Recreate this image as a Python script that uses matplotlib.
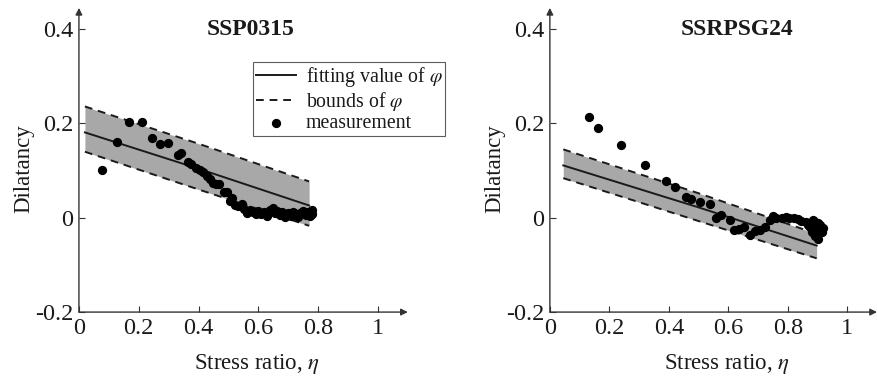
import numpy as np
import matplotlib.pyplot as plt

plt.rcParams['font.family'] = 'Liberation Serif'
plt.rcParams['mathtext.fontset'] = 'stix'

# SSP0315 (left panel)
eta_fit_a = [0.02, 0.40, 0.77]
fit_a = [0.181, 0.104, 0.026]
upper_a = [0.236, 0.157, 0.077]
lower_a = [0.140, 0.060, -0.017]
eta_meas_a = [0.076, 0.126, 0.168, 0.210, 0.243, 0.271, 0.299, 0.330, 0.340, 0.365,
              0.375, 0.390, 0.405, 0.415, 0.427, 0.438, 0.449, 0.460, 0.470, 0.485,
              0.494, 0.505, 0.512, 0.522, 0.533, 0.545, 0.552, 0.561, 0.572, 0.582,
              0.592, 0.600, 0.610, 0.620, 0.630, 0.640, 0.648, 0.656, 0.664, 0.672,
              0.680, 0.690, 0.700, 0.708, 0.716, 0.724, 0.732, 0.740, 0.750, 0.758,
              0.766, 0.772, 0.778, 0.780]
meas_a = [0.102, 0.160, 0.204, 0.203, 0.170, 0.157, 0.158, 0.134, 0.137, 0.118,
          0.114, 0.105, 0.102, 0.097, 0.088, 0.082, 0.074, 0.072, 0.071, 0.055,
          0.054, 0.035, 0.042, 0.028, 0.024, 0.030, 0.018, 0.010, 0.016, 0.012,
          0.008, 0.014, 0.008, 0.012, 0.004, 0.016, 0.020, 0.010, 0.014, 0.006,
          0.012, 0.002, 0.010, 0.004, 0.012, 0.006, 0.002, 0.010, 0.014, 0.006,
          0.012, 0.004, 0.016, 0.008]

# SSRPSG24 (right panel)
eta_fit_b = [0.045, 0.50, 0.897]
fit_b = [0.111, 0.022, -0.059]
upper_b = [0.145, 0.052, -0.034]
lower_b = [0.084, -0.007, -0.086]
eta_meas_b = [0.130, 0.163, 0.240, 0.320, 0.390, 0.420, 0.459, 0.474, 0.504, 0.537,
              0.557, 0.574, 0.607, 0.619, 0.635, 0.652, 0.674, 0.690, 0.707, 0.725,
              0.739, 0.750, 0.762, 0.781, 0.795, 0.803, 0.820, 0.835, 0.843, 0.860,
              0.868, 0.876, 0.885, 0.893, 0.900, 0.910, 0.920, 0.880, 0.890, 0.900,
              0.905, 0.885, 0.895, 0.915]
meas_b = [0.213, 0.191, 0.154, 0.111, 0.079, 0.065, 0.044, 0.040, 0.033, 0.030,
          -0.001, 0.006, -0.004, -0.026, -0.024, -0.020, -0.036, -0.029, -0.026, -0.020,
          -0.005, 0.003, 0.000, -0.001, 0.001, 0.000, -0.001, -0.003, -0.006, -0.010,
          -0.015, -0.020, -0.005, -0.008, -0.012, -0.015, -0.022, -0.030, -0.038, -0.045,
          -0.028, -0.020, -0.035, -0.030]

xticks = [0, 0.2, 0.4, 0.6, 0.8, 1]
xticklabels = ['0', '0.2', '0.4', '0.6', '0.8', '1']
yticks = [-0.2, 0, 0.2, 0.4]
yticklabels = ['-0.2', '0', '0.2', '0.4']

ink = '#1a1a1a'
fig = plt.figure(figsize=(8.77, 3.76), dpi=100)
ax1 = fig.add_axes([0.090, 0.170, 0.375, 0.809])
ax2 = fig.add_axes([0.627, 0.170, 0.373, 0.809])


def draw_panel(ax, eta_fit, fit, upper, lower, eta_meas, meas, title, title_x):
    ax.fill_between(eta_fit, lower, upper, color='#a8a8a8', lw=0)
    ax.plot(eta_fit, fit, color=ink, lw=1.4, label='fitting value of $\\varphi$')
    ax.plot(eta_fit, upper, color=ink, lw=1.4, ls=(0, (4, 3)), label='bounds of $\\varphi$')
    ax.plot(eta_fit, lower, color=ink, lw=1.4, ls=(0, (4, 3)))
    ax.scatter(eta_meas, meas, s=32, color='black', zorder=3, label='measurement')
    ax.set_xlim(0, 1.1)
    ax.set_ylim(-0.2, 0.445)
    for s in ['top', 'right', 'left', 'bottom']:
        ax.spines[s].set_visible(False)
    ax.annotate('', xy=(1, 0), xytext=(0, 0), xycoords='axes fraction',
                arrowprops=dict(arrowstyle='-|>', color='#333333', lw=1.0,
                                mutation_scale=10, shrinkA=0, shrinkB=0))
    ax.annotate('', xy=(0, 1), xytext=(0, 0), xycoords='axes fraction',
                arrowprops=dict(arrowstyle='-|>', color='#333333', lw=1.0,
                                mutation_scale=10, shrinkA=0, shrinkB=0))
    ax.set_xticks(xticks)
    ax.set_xticklabels(xticklabels)
    ax.set_yticks(yticks)
    ax.set_yticklabels(yticklabels)
    ax.tick_params(direction='in', length=4, width=0.8, color='#333333',
                   labelsize=17.5, labelcolor=ink, pad=4)
    ax.set_xlabel('Stress ratio, $\\eta$', fontsize=16.5, color=ink)
    ax.set_ylabel('Dilatancy', fontsize=16.5, color=ink)
    ax.xaxis.set_label_coords(0.54, -0.13)
    ax.yaxis.set_label_coords(-0.137, 0.47)
    ax.text(title_x, 0.4, title, fontsize=17, fontweight='bold', color=ink,
            ha='center', va='center')


draw_panel(ax1, eta_fit_a, fit_a, upper_a, lower_a, eta_meas_a, meas_a, 'SSP0315', 0.575)
draw_panel(ax2, eta_fit_b, fit_b, upper_b, lower_b, eta_meas_b, meas_b, 'SSRPSG24', 0.63)

leg = ax1.legend(loc='upper left', bbox_to_anchor=(253 / 877, 1 - 62 / 376),
                 bbox_transform=fig.transFigure, fontsize=14.3, frameon=True,
                 fancybox=False, borderpad=0.15, labelspacing=0.05, handlelength=2.0,
                 handletextpad=0.5, borderaxespad=0)
leg.get_frame().set_edgecolor('#333333')
leg.get_frame().set_linewidth(0.8)
for t in leg.get_texts():
    t.set_color(ink)

fig.savefig('out.png', dpi=100)
